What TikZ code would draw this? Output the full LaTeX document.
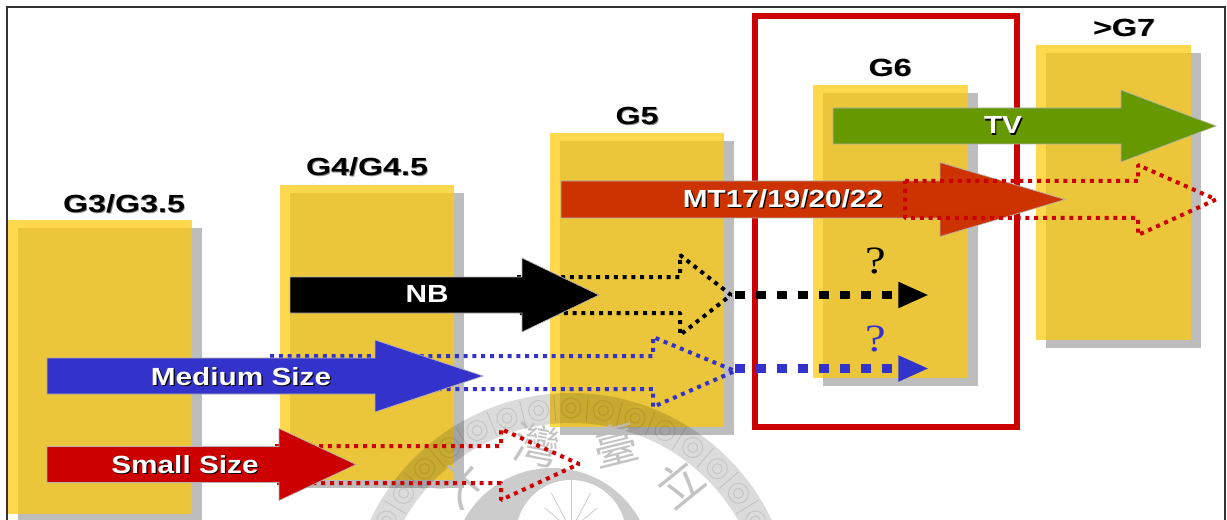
\documentclass[tikz,border=0pt]{standalone}
\usepackage{fontspec}
\usetikzlibrary{arrows.meta,calc}
\newfontfamily\labfont[FakeStretch=1.2]{Liberation Sans}
\newfontfamily\genfont[FakeStretch=1.3]{Liberation Sans}
\newfontfamily\cjkfont{Noto Sans CJK TC}
\newfontfamily\qfont[FakeStretch=1.2]{Liberation Serif}
\definecolor{ybase}{HTML}{FFD84D}
\definecolor{yover}{HTML}{EBC63A}
\definecolor{gshad}{HTML}{BDBDBD}
\definecolor{cgreen}{HTML}{669900}
\definecolor{corange}{HTML}{CC3300}
\definecolor{cred}{HTML}{CC0000}
\definecolor{cblue}{HTML}{3333CC}
\newcommand{\whitelab}[1]{{\rlap{\kern 0.9pt\raisebox{-0.9pt}{\textcolor{black}{#1}}}\textcolor{white}{#1}}}
\newcommand{\genlab}[1]{{\rlap{\kern 0.7pt\raisebox{-0.7pt}{\textcolor{black!45}{#1}}}\textcolor{black}{#1}}}
% column: x0 x1 y0 y1 (yellow), shadow offset 10,8
\newcommand{\gencol}[4]{%
  \fill[gshad] (#1+10,#3+8) rectangle (#2+10,#4+8);
  \fill[ybase] (#1,#3) rectangle (#2,#4);
  \fill[yover] (#1+10,#3+8) rectangle (#2,#4);}
% block arrow: colour, tail x, centre y, half shaft, head x, half head, tip x
\newcommand{\blockarrow}[7]{%
  \path[blockshape,fill=#1] (#2,#3-#4) -- (#5,#3-#4) -- (#5,#3-#6) -- (#7,#3) -- (#5,#3+#6) -- (#5,#3+#4) -- (#2,#3+#4) -- cycle;}
% dotted arrow outline: colour, start x, top y, bottom y, head x, head top, head bottom, tip x, tip y
\newcommand{\dotoutline}[9]{%
  \draw[dotline,#1] (#2,#3) -- (#5,#3) -- (#5,#6) -- (#8,#9) -- (#5,#7) -- (#5,#4) -- (#2,#4);}
\tikzset{
  x=0.75pt,y=-0.75pt,
  blockshape/.style={draw=black!30,line width=0.5pt},
  dotline/.style={line width=3pt,line join=bevel,dash pattern=on 3pt off 3.6pt},
  thickdash/.style={line width=6.2pt,dash pattern=on 7.5pt off 8.25pt,-{Triangle[length=23pt,width=18pt]}},
  whitetext/.style={font=\labfont\bfseries\fontsize{18.6pt}{20pt}\selectfont,inner sep=0pt},
  gentext/.style={font=\genfont\bfseries\fontsize{18.6pt}{20pt}\selectfont,inner sep=0pt},
  qtext/.style={font=\qfont\fontsize{29pt}{31pt}\selectfont,inner sep=0pt},
  seal/.style={font=\cjkfont\fontsize{34pt}{36pt}\selectfont,text=black!26,inner sep=0pt,opacity=.9},
}
\begin{document}
\begin{tikzpicture}
\useasboundingbox (0,0) rectangle (1227,520);
\clip (0,0) rectangle (1227,520);
\fill[white] (0,0) rectangle (1227,520);
% columns
\gencol{8}{192}{220}{514}
\gencol{280}{454}{185}{480}
\gencol{550}{724}{133}{427}
\gencol{813}{968}{85}{378}
\gencol{1036}{1191}{45}{340}
% frame
\draw[black!80,line width=1pt] (7,520) -- (7,7) -- (1225,7) -- (1225,520);
% watermark
\coordinate (sealc) at (571,615);
\fill[black,opacity=.14,even odd rule] (sealc) circle[radius=222] (sealc) circle[radius=192];
\foreach \a in {-63,-54,...,63}{
  \draw[black,opacity=.1,line width=0.7pt] ($(sealc)+(\a-90:207)$) circle[radius=10];
  \draw[black,opacity=.1,line width=0.7pt] ($(sealc)+(\a-90:207)$) circle[radius=5];
  \draw[black,opacity=.12,line width=0.6pt] ($(sealc)+(\a-85.5:194)$) -- ($(sealc)+(\a-85.5:220)$);
}
\fill[black,opacity=.2] (552,568) circle[radius=100];
\fill[white] (571,535) circle[radius=55];
\foreach \a/\l in {-90/30,-62/22,-118/22,-40/14,-140/14}{
  \draw[black!20,line width=0.6pt] (571,530) -- ++(\a:\l+20);
}
\node[seal,rotate=-39] (sealda) at (460,483) {大};
\node[seal,rotate=-11] (sealwan) at (537,445) {灣};
\node[seal,rotate=14] (sealtai) at (615,445) {臺};
\node[seal,rotate=39] (sealli) at (680,483) {立};
% dotted outlines under arrows
\dotoutline{cred}{275}{446}{483}{501}{429}{500}{579}{464}
\dotoutline{cblue}{270}{356}{389}{653}{337}{407}{735}{371}
\dotoutline{black}{517}{277}{313}{680}{255}{335}{731}{295}
% red box
\draw[cred,line width=4.5pt] (755,16) rectangle (1017,427);
% block arrows
\blockarrow{cred}{47}{464.5}{18}{279}{36}{356}
\blockarrow{cblue}{47}{376}{18}{375}{36}{483}
\blockarrow{black}{290}{295}{18}{522}{37}{599}
\blockarrow{corange}{561}{199.5}{18.5}{940}{37}{1065}
% MT future outline
\draw[dotline,cred] (905,181) -- (1138,181) -- (1138,165) -- (1216,199.5) -- (1138,235) -- (1138,218) -- (905,218) -- cycle;
\blockarrow{cgreen}{833}{126}{18}{1121}{36}{1216}
% dashed connectors
\coordinate (nbs) at (735,295);
\coordinate (nbe) at (929,295);
\coordinate (mds) at (735,368.5);
\coordinate (mde) at (929,368.5);
\draw[thickdash,black] (nbs) -- (nbe);
\draw[thickdash,cblue] (mds) -- (mde);
% labels
\node[gentext] (g3) at (124,204) {\genlab{G3/G3.5}};
\node[gentext] (g4) at (367,167) {\genlab{G4/G4.5}};
\node[gentext] (g5) at (637,116) {\genlab{G5}};
\node[gentext] (g6) at (890,68) {\genlab{G6}};
\node[gentext] (g7) at (1124,28) {\genlab{>G7}};
\node[whitetext] (small) at (185,465) {\whitelab{Small Size}};
\node[whitetext] (medium) at (241,377) {\whitelab{Medium Size}};
\node[whitetext] (nb) at (427,295) {\whitelab{NB}};
\node[whitetext] (mt) at (783,199) {\whitelab{MT17/19/20/22}};
\node[whitetext] (tv) at (1003,126) {\whitelab{TV}};
\node[qtext,text=black] (q1) at (876,261) {?};
\node[qtext,text=cblue] (q2) at (876,339) {?};
\end{tikzpicture}
\end{document}
